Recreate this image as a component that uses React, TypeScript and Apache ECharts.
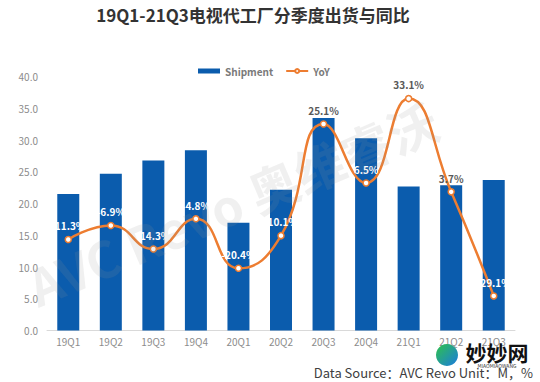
import React, { useEffect, useRef } from "react";
import * as echarts from "echarts";

const categories = ["19Q1", "19Q2", "19Q3", "19Q4", "20Q1", "20Q2", "20Q3", "20Q4", "21Q1", "21Q2", "21Q3"];
const shipment = [21.5, 24.7, 26.8, 28.4, 17.0, 22.2, 33.5, 30.3, 22.7, 22.9, 23.7];
const yoy = [-11.3, -6.9, -14.3, -4.8, -20.4, -10.1, 25.1, 6.5, 33.1, 3.7, -29.1];
const darkLabelIdx = [6, 8, 9];
const yTicks = [0, 5, 10, 15, 20, 25, 30, 35, 40];

export default function App() {
  const ref = useRef<HTMLDivElement>(null);
  useEffect(() => {
    if (!ref.current) return;
    const chart = echarts.init(ref.current, null, { renderer: "svg" });
    const font = "'Noto Sans CJK SC', 'Open Sans', sans-serif";
    chart.setOption({
      animation: false,
      backgroundColor: "#ffffff",
      textStyle: { fontFamily: font },
      legend: {
        top: 61,
        left: 193,
        itemGap: 12,
        itemWidth: 22,
        itemHeight: 5,
        textStyle: { color: "#7a7a7a", fontSize: 10, fontWeight: "bold", fontFamily: font },
        data: [
          { name: "Shipment", icon: "rect" },
          { name: "YoY" },
        ],
      },
      grid: { left: 47, right: 25, top: 76.7, bottom: 51.5, containLabel: false },
      xAxis: {
        type: "category",
        data: categories,
        axisLine: { lineStyle: { color: "#d9d9d9" } },
        axisTick: { show: false },
        axisLabel: { color: "#8c8c8c", fontSize: 10, margin: 6, fontFamily: font },
      },
      yAxis: [
        {
          type: "value",
          min: yTicks[0],
          max: yTicks[yTicks.length - 1],
          interval: 5,
          axisLine: { show: false },
          axisTick: { show: false },
          splitLine: { show: false },
          axisLabel: {
            color: "#8c8c8c",
            fontSize: 10,
            margin: 9,
            fontFamily: font,
            formatter: (v: number) => v.toFixed(1),
          },
        },
        { type: "value", min: -40, max: 40, show: false, splitLine: { show: false } },
      ],
      series: [
        {
          name: "Shipment",
          type: "bar",
          data: shipment,
          barWidth: 22,
          itemStyle: { color: "#0B5CAD" },
          z: 2,
        },
        {
          name: "YoY",
          type: "line",
          yAxisIndex: 1,
          smooth: true,
          symbol: "circle",
          symbolSize: 6,
          lineStyle: { color: "#ED7D31", width: 2.5 },
          itemStyle: { color: "#ffffff", borderColor: "#ED7D31", borderWidth: 1.5 },
          data: yoy.map((v, i) => ({
            value: v,
            label: { color: darkLabelIdx.includes(i) ? "#595959" : "#ffffff" },
          })),
          label: {
            show: true,
            position: "top",
            distance: 5,
            fontSize: 10,
            fontWeight: "bold",
            fontFamily: font,
            formatter: (p: any) => p.value.toFixed(1) + "%",
          },
          z: 5,
        },
      ],
      graphic: [
        {
          type: "text",
          x: 253,
          y: 14,
          style: {
            text: "19Q1-21Q3电视代工厂分季度出货与同比",
            textAlign: "center",
            textVerticalAlign: "middle",
            fontSize: 17,
            fontWeight: "bold",
            fill: "#333333",
            fontFamily: font,
          },
        },
        {
          type: "text",
          x: 232,
          y: 202,
          rotation: (23 * Math.PI) / 180,
          z: 100,
          silent: true,
          style: {
            text: "AVC Revo 奥维睿沃",
            textAlign: "center",
            textVerticalAlign: "middle",
            fontSize: 50,
            fontWeight: "bold",
            fill: "rgba(150,150,150,0.14)",
            fontFamily: font,
          },
        },
        {
          type: "text",
          x: 533,
          y: 372,
          style: {
            text: "Data Source：AVC Revo Unit：M，%",
            textAlign: "right",
            textVerticalAlign: "middle",
            fontSize: 13,
            fill: "#404040",
            fontFamily: font,
          },
        },
        {
          type: "circle",
          shape: { cx: 447, cy: 355, r: 11 },
          z: 101,
          style: {
            fill: new echarts.graphic.LinearGradient(0, 0, 1, 1, [
              { offset: 0, color: "#2fc24a" },
              { offset: 1, color: "#1a7be0" },
            ]),
          },
        },
        {
          type: "text",
          x: 497,
          y: 352,
          z: 101,
          style: {
            text: "妙妙网",
            textAlign: "center",
            textVerticalAlign: "middle",
            fontSize: 21,
            fontWeight: "bold",
            fill: "#111111",
            fontFamily: font,
          },
        },
        {
          type: "text",
          x: 497,
          y: 365,
          z: 101,
          style: {
            text: "MIAOMIAOWANG",
            textAlign: "center",
            textVerticalAlign: "middle",
            fontSize: 5,
            fill: "#333333",
            fontFamily: font,
          },
        },
      ],
    });
    return () => chart.dispose();
  }, []);
  return (
    <div
      ref={ref}
      style={{ position: "fixed", left: 0, top: 0, width: 540, height: 382 }}
    />
  );
}
